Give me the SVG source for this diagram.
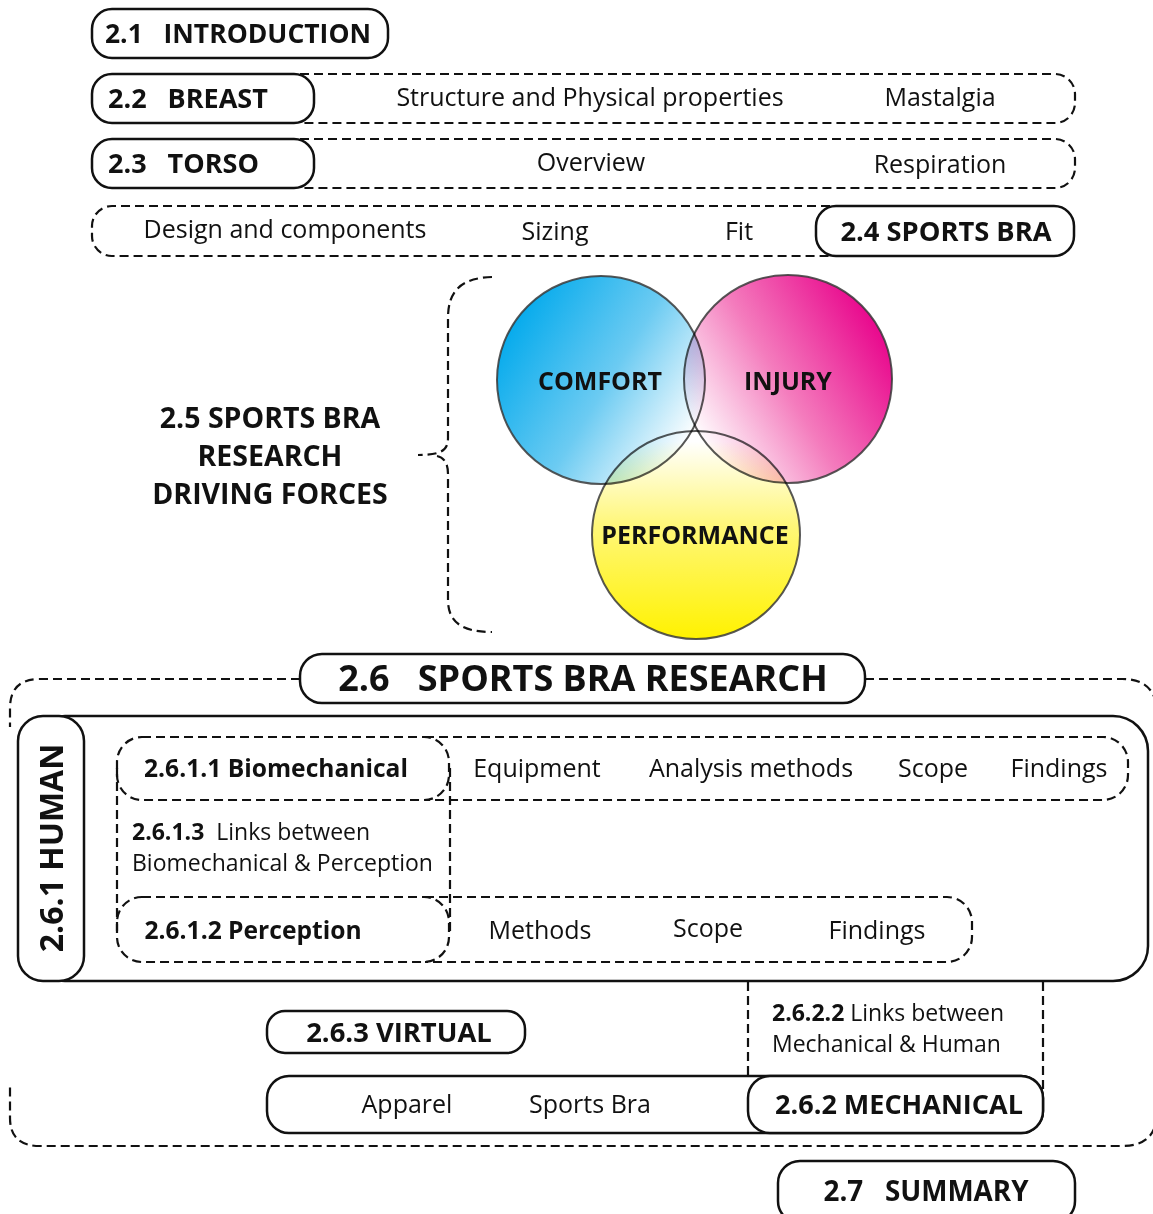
<svg xmlns="http://www.w3.org/2000/svg" width="1153" height="1214" viewBox="0 0 1153 1214">
  <defs>
    <style>
      .solid { fill: #ffffff; stroke: #111111; stroke-width: 2.5; }
      .frame { fill: none; stroke: #111111; stroke-width: 2.5; }
      .dash { fill: none; stroke: #111111; stroke-width: 2.2; stroke-dasharray: 9 5; }
      .hd { font-family: "Open Sans", "Liberation Sans", sans-serif; font-weight: 700; fill: #111111; }
      .tx { font-family: "Open Sans", "Liberation Sans", sans-serif; font-weight: 400; fill: #111111; }
      .venn { stroke: #3a3a3a; stroke-width: 2; stroke-opacity: 0.85; mix-blend-mode: multiply; }
    </style>
    <linearGradient id="gCyan" x1="0.02" y1="0.25" x2="1" y2="0.85">
      <stop offset="0" stop-color="#00a9ec"/>
      <stop offset="0.5" stop-color="#6ccbf2"/>
      <stop offset="0.92" stop-color="#ffffff"/>
    </linearGradient>
    <linearGradient id="gMagenta" x1="0.98" y1="0.25" x2="0" y2="0.85">
      <stop offset="0" stop-color="#e8008a"/>
      <stop offset="0.5" stop-color="#f47cbd"/>
      <stop offset="0.92" stop-color="#ffffff"/>
    </linearGradient>
    <linearGradient id="gYellow" x1="0.5" y1="1" x2="0.5" y2="0">
      <stop offset="0" stop-color="#fff200"/>
      <stop offset="0.55" stop-color="#fff77a"/>
      <stop offset="0.95" stop-color="#ffffff"/>
    </linearGradient>
  </defs>

  <rect width="1153" height="1214" fill="#ffffff"/>

  <!-- panel holding the 2.6.1 rows -->
  <rect class="frame" x="30" y="716" width="1118" height="265" rx="35"/>

  <!-- dashed outlines and link lines -->
  <g id="connectors">
    <!-- 2.2 row -->
    <path class="dash" d="M 300 74 H 1055 A 20 20 0 0 1 1075 94 V 103 A 20 20 0 0 1 1055 123 H 300"/>
    <!-- 2.3 row -->
    <path class="dash" d="M 300 139 H 1055 A 20 20 0 0 1 1075 159 V 168 A 20 20 0 0 1 1055 188 H 300"/>
    <!-- 2.4 row -->
    <path class="dash" d="M 830 206 H 112 A 20 20 0 0 0 92 226 V 236 A 20 20 0 0 0 112 256 H 830"/>
    <!-- brace for 2.5 -->
    <path class="dash" d="M 492 277 C 462 278 448 290 448 318 V 438 C 448 450 442 455 418 455 M 437 456 C 443 457 448 462 448 474 V 600 C 448 622 462 632 492 632"/>
    <!-- 2.6 outer frame -->
    <path class="dash" d="M 300 679 H 40 Q 10 679 10 708 V 727"/>
    <path class="dash" d="M 865 679 H 1122 Q 1156 679 1157 712 V 1114 Q 1156 1146 1122 1146 H 40 Q 10 1146 10 1118 V 1085"/>
    <!-- 2.6.1 rows -->
    <path class="dash" d="M 425 737 H 1103 A 25 25 0 0 1 1128 762 V 775 A 25 25 0 0 1 1103 800 H 425"/>
    <path class="dash" d="M 425 897 H 947 A 25 25 0 0 1 972 922 V 937 A 25 25 0 0 1 947 962 H 425"/>
    <!-- 2.6.1.3 links -->
    <path class="dash" d="M 117 768 V 932 M 450 768 V 932"/>
    <!-- 2.6.2.2 links -->
    <path class="dash" d="M 748 982 V 1098 M 1043 982 V 1094"/>
  </g>

  <g id="n21">
    <rect class="solid" x="92" y="9" width="296" height="49" rx="20"/>
    <text class="hd" x="238" y="43" font-size="26.5" text-anchor="middle" xml:space="preserve">2.1   INTRODUCTION</text>
  </g>

  <g id="n22">
    <rect class="solid" x="92" y="74" width="222" height="49" rx="20"/>
    <text class="hd" x="108" y="108" font-size="27" xml:space="preserve">2.2   BREAST</text>
    <text class="tx" x="590" y="106" font-size="25" text-anchor="middle">Structure and Physical properties</text>
    <text class="tx" x="940" y="106" font-size="25" text-anchor="middle">Mastalgia</text>
  </g>

  <g id="n23">
    <rect class="solid" x="92" y="139" width="222" height="49" rx="20"/>
    <text class="hd" x="108" y="173" font-size="27" xml:space="preserve">2.3   TORSO</text>
    <text class="tx" x="591" y="171" font-size="25" text-anchor="middle">Overview</text>
    <text class="tx" x="940" y="173" font-size="25" text-anchor="middle">Respiration</text>
  </g>

  <g id="n24">
    <rect class="solid" x="816" y="206" width="258" height="50" rx="20"/>
    <text class="hd" x="946" y="241" font-size="27.3" text-anchor="middle">2.4 SPORTS BRA</text>
    <text class="tx" x="285" y="238" font-size="25" text-anchor="middle">Design and components</text>
    <text class="tx" x="555" y="240" font-size="25" text-anchor="middle">Sizing</text>
    <text class="tx" x="739" y="240" font-size="25" text-anchor="middle">Fit</text>
  </g>

  <g id="n25">
    <text class="hd" x="270" y="428" font-size="28.5" text-anchor="middle">2.5 SPORTS BRA</text>
    <text class="hd" x="270" y="466" font-size="28.5" text-anchor="middle">RESEARCH</text>
    <text class="hd" x="270" y="504" font-size="28.5" text-anchor="middle">DRIVING FORCES</text>
  </g>

  <g id="venn">
    <g style="isolation:isolate">
      <circle class="venn" cx="601" cy="380" r="104" fill="url(#gCyan)"/>
      <circle class="venn" cx="788" cy="379" r="104" fill="url(#gMagenta)"/>
      <circle class="venn" cx="696" cy="535" r="104" fill="url(#gYellow)"/>
    </g>
    <text class="hd" x="600" y="390" font-size="25" text-anchor="middle">COMFORT</text>
    <text class="hd" x="788" y="390" font-size="25" text-anchor="middle">INJURY</text>
    <text class="hd" x="695" y="544" font-size="25" text-anchor="middle">PERFORMANCE</text>
  </g>

  <g id="n26">
    <rect class="solid" x="300" y="654" width="565" height="49" rx="22"/>
    <text class="hd" x="583" y="691" font-size="36" text-anchor="middle" xml:space="preserve">2.6   SPORTS BRA RESEARCH</text>
  </g>

  <g id="n261">
    <rect class="solid" x="18" y="716" width="66" height="265" rx="25"/>
    <text class="hd" transform="translate(63 848) rotate(-90)" font-size="32" text-anchor="middle">2.6.1 HUMAN</text>
  </g>

  <g id="n2611">
    <rect class="dash" x="117" y="737" width="332" height="63" rx="25"/>
    <text class="hd" x="276" y="777" font-size="24.6" text-anchor="middle">2.6.1.1 Biomechanical</text>
    <text class="tx" x="537" y="777" font-size="25" text-anchor="middle">Equipment</text>
    <text class="tx" x="751" y="777" font-size="25" text-anchor="middle">Analysis methods</text>
    <text class="tx" x="933" y="777" font-size="25" text-anchor="middle">Scope</text>
    <text class="tx" x="1059" y="777" font-size="25" text-anchor="middle">Findings</text>
  </g>

  <g id="n2613">
    <text class="tx" x="132" y="840" font-size="23" xml:space="preserve"><tspan font-weight="700">2.6.1.3</tspan>  Links between</text>
    <text class="tx" x="132" y="871" font-size="23">Biomechanical &amp; Perception</text>
  </g>

  <g id="n2612">
    <rect class="dash" x="117" y="897" width="332" height="65" rx="25"/>
    <text class="hd" x="253" y="939" font-size="24.6" text-anchor="middle">2.6.1.2 Perception</text>
    <text class="tx" x="540" y="939" font-size="25" text-anchor="middle">Methods</text>
    <text class="tx" x="708" y="937" font-size="25" text-anchor="middle">Scope</text>
    <text class="tx" x="877" y="939" font-size="25" text-anchor="middle">Findings</text>
  </g>

  <g id="n2622">
    <text class="tx" x="772" y="1021" font-size="23"><tspan font-weight="700">2.6.2.2</tspan> Links between</text>
    <text class="tx" x="772" y="1052" font-size="23">Mechanical &amp; Human</text>
  </g>

  <g id="n263">
    <rect class="solid" x="267" y="1011" width="258" height="42" rx="18"/>
    <text class="hd" x="399" y="1042" font-size="27.4" text-anchor="middle">2.6.3 VIRTUAL</text>
  </g>

  <g id="n262">
    <rect class="solid" x="267" y="1076" width="776" height="57" rx="22"/>
    <text class="tx" x="407" y="1113" font-size="25" text-anchor="middle">Apparel</text>
    <text class="tx" x="590" y="1113" font-size="25" text-anchor="middle">Sports Bra</text>
    <rect class="solid" x="748" y="1076" width="295" height="57" rx="22"/>
    <text class="hd" x="899" y="1114" font-size="27" text-anchor="middle">2.6.2 MECHANICAL</text>
  </g>

  <g id="n27">
    <rect class="solid" x="778" y="1161" width="297" height="62" rx="22"/>
    <text class="hd" x="926" y="1201" font-size="27.8" text-anchor="middle" xml:space="preserve">2.7   SUMMARY</text>
  </g>
</svg>
